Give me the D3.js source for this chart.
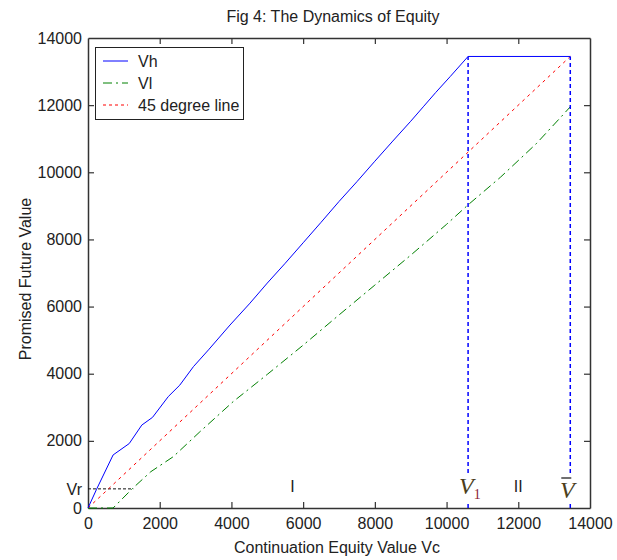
<!DOCTYPE html>
<html><head><meta charset="utf-8">
<script src="https://cdn.jsdelivr.net/npm/d3@7"></script>
<style>
body{margin:0;background:#fff;}
text{font-family:"Liberation Sans Narrow","Arial Narrow","Liberation Sans",Arial,sans-serif;fill:#222;}
</style></head><body>
<svg id="c" width="617" height="560"></svg>
<script>
const title = "Fig 4: The Dynamics of Equity";
const xLabel = "Continuation Equity Value Vc";
const yLabel = "Promised Future Value";
const xTicks = [0,2000,4000,6000,8000,10000,12000,14000];
const yTicks = [0,2000,4000,6000,8000,10000,12000,14000];
const V1 = 10600, Vbar = 13450, Vr = 570;
// Vh series
const vhX = [0,240,700,1150,1500,1800,2240,2560,2940,3360,3960,4500,5000,5500,6000,6500,7000,7500,8000,8500,9000,9350,9700,10100,10600,13450];
const vhY = [0,560,1580,1920,2470,2700,3320,3660,4210,4710,5450,6080,6700,7290,7900,8510,9130,9720,10330,10930,11520,11950,12380,12850,13450,13450];
// Vl series
const vlX = [0,700,1260,1750,2380,3120,4050,5000,6000,7000,8000,9000,10000,10600,11500,12500,13150,13450];
const vlY = [0,0,600,1080,1530,2270,3170,3980,4850,5750,6640,7530,8450,9030,9850,10850,11600,11950];
// 45 degree line
const dX = [0,13450];
const dY = [0,13450];
const legendNames = ["Vh","Vl","45 degree line"];

const svg = d3.select("#c");
const x = d3.scaleLinear().domain([0,14000]).range([88,590]);
const y = d3.scaleLinear().domain([0,14000]).range([508,38]);
const line = d3.line().x(d=>x(d[0])).y(d=>y(d[1]));
const zip = (a,b)=>a.map((v,i)=>[v,b[i]]);

// axes
const fs = "16px";
const gx = svg.append("g").attr("transform","translate(0,508)")
  .call(d3.axisBottom(x).tickValues(xTicks).tickFormat(d3.format("d")).tickSizeInner(-6).tickSizeOuter(0).tickPadding(10));
const gxt = svg.append("g").attr("transform","translate(0,38)")
  .call(d3.axisTop(x).tickValues(xTicks).tickFormat("").tickSizeInner(-6).tickSizeOuter(0));
const gy = svg.append("g").attr("transform","translate(88,0)")
  .call(d3.axisLeft(y).tickValues(yTicks).tickFormat(d3.format("d")).tickSizeInner(-6).tickSizeOuter(0).tickPadding(6));
const gyr = svg.append("g").attr("transform","translate(590,0)")
  .call(d3.axisRight(y).tickValues(yTicks).tickFormat("").tickSizeInner(-6).tickSizeOuter(0));
[gx,gxt,gy,gyr].forEach(g=>{
  g.selectAll("path").attr("stroke","#333").attr("stroke-width",1.5);
  g.selectAll("line").attr("stroke","#333").attr("stroke-width",1.2);
  g.selectAll("text").attr("font-size",fs).attr("font-family",null).style("fill","#222");
});
[gx,gxt,gy,gyr].forEach(g=>g.selectAll(".tick line").filter(d=>d===0||d===14000).remove());

// Vr dashed line and label
svg.append("path").attr("d",line([[0,Vr],[1263,Vr]])).attr("fill","none")
  .attr("stroke","#111").attr("stroke-width",1).attr("stroke-dasharray","3,2");
svg.append("text").attr("x",82).attr("y",y(Vr)+6).attr("text-anchor","end").attr("font-size",fs).text("Vr");

// data lines
svg.append("path").attr("d",line(zip(dX,dY))).attr("fill","none").attr("stroke","#ff0000")
  .attr("stroke-width",1).attr("stroke-dasharray","3,4");
svg.append("path").attr("d",line(zip(vlX,vlY))).attr("fill","none").attr("stroke","#008000")
  .attr("stroke-width",1).attr("stroke-dasharray","9,4,2,4");
svg.append("path").attr("d",line(zip(vhX,vhY))).attr("fill","none").attr("stroke","#0000ff")
  .attr("stroke-width",1);

// vertical dashed lines
[V1,Vbar].forEach(v=>{
  const top = v===V1 ? vhY[vhX.indexOf(V1)] : Vbar;
  svg.append("path").attr("d",line([[v,0],[v,top]])).attr("fill","none").attr("stroke","#0000ff")
    .attr("stroke-width",1.5).attr("stroke-dasharray","4,3");
});

// white boxes behind the V labels (label occludes the dashed line)
svg.append("rect").attr("x",x(V1)-10).attr("y",474).attr("width",18).attr("height",29).attr("fill","#fff");
svg.append("rect").attr("x",x(Vbar)-10).attr("y",474).attr("width",16).attr("height",29).attr("fill","#fff");

// region labels
svg.append("text").attr("x",x(5700)).attr("y",492).attr("text-anchor","middle").attr("font-size",fs).text("I");
svg.append("text").attr("x",x(12000)).attr("y",492).attr("text-anchor","middle").attr("font-size",fs).text("II");
const vl1 = svg.append("text").attr("x",x(V1)-9).attr("y",494).style("font-family","'Liberation Serif','Times New Roman',serif")
  .style("font-style","italic").attr("font-size","24px").style("fill","#4d3f1c");
vl1.append("tspan").text("V");
vl1.append("tspan").attr("dy",5).attr("font-size","14px").style("font-style","normal").style("fill","#8a2335").text("1");
svg.append("text").attr("x",x(Vbar)-3).attr("y",498).attr("text-anchor","middle")
  .style("font-family","'Liberation Serif','Times New Roman',serif").style("font-style","italic")
  .attr("font-size","24px").style("fill","#4d3f1c").text("V");
svg.append("line").attr("x1",x(Vbar)-9).attr("x2",x(Vbar)+1).attr("y1",478).attr("y2",478).attr("stroke","#333").attr("stroke-width",1.4);

// title and axis labels
svg.append("text").attr("x",333).attr("y",22).attr("text-anchor","middle").attr("font-size",fs).text(title);
svg.append("text").attr("x",337).attr("y",553).attr("text-anchor","middle").attr("font-size",fs).text(xLabel);
svg.append("text").attr("transform","translate(31,279) rotate(-90)").attr("text-anchor","middle").attr("font-size",fs).text(yLabel);

// legend
const lg = svg.append("g");
lg.append("rect").attr("x",95.5).attr("y",47.5).attr("width",148).attr("height",72).attr("fill","#fff").attr("stroke","#222").attr("stroke-width",1);
const styles = [{c:"#0000ff",d:null},{c:"#008000",d:"9,4,2,4"},{c:"#ff0000",d:"3,3"}];
legendNames.forEach((n,i)=>{
  const yy = 61 + i*22;
  lg.append("line").attr("x1",103).attr("x2",128).attr("y1",yy).attr("y2",yy)
    .attr("stroke",styles[i].c).attr("stroke-width",1).attr("stroke-dasharray",styles[i].d);
  lg.append("text").attr("x",138).attr("y",yy+6).attr("font-size",fs).text(n);
});
</script></body></html>
